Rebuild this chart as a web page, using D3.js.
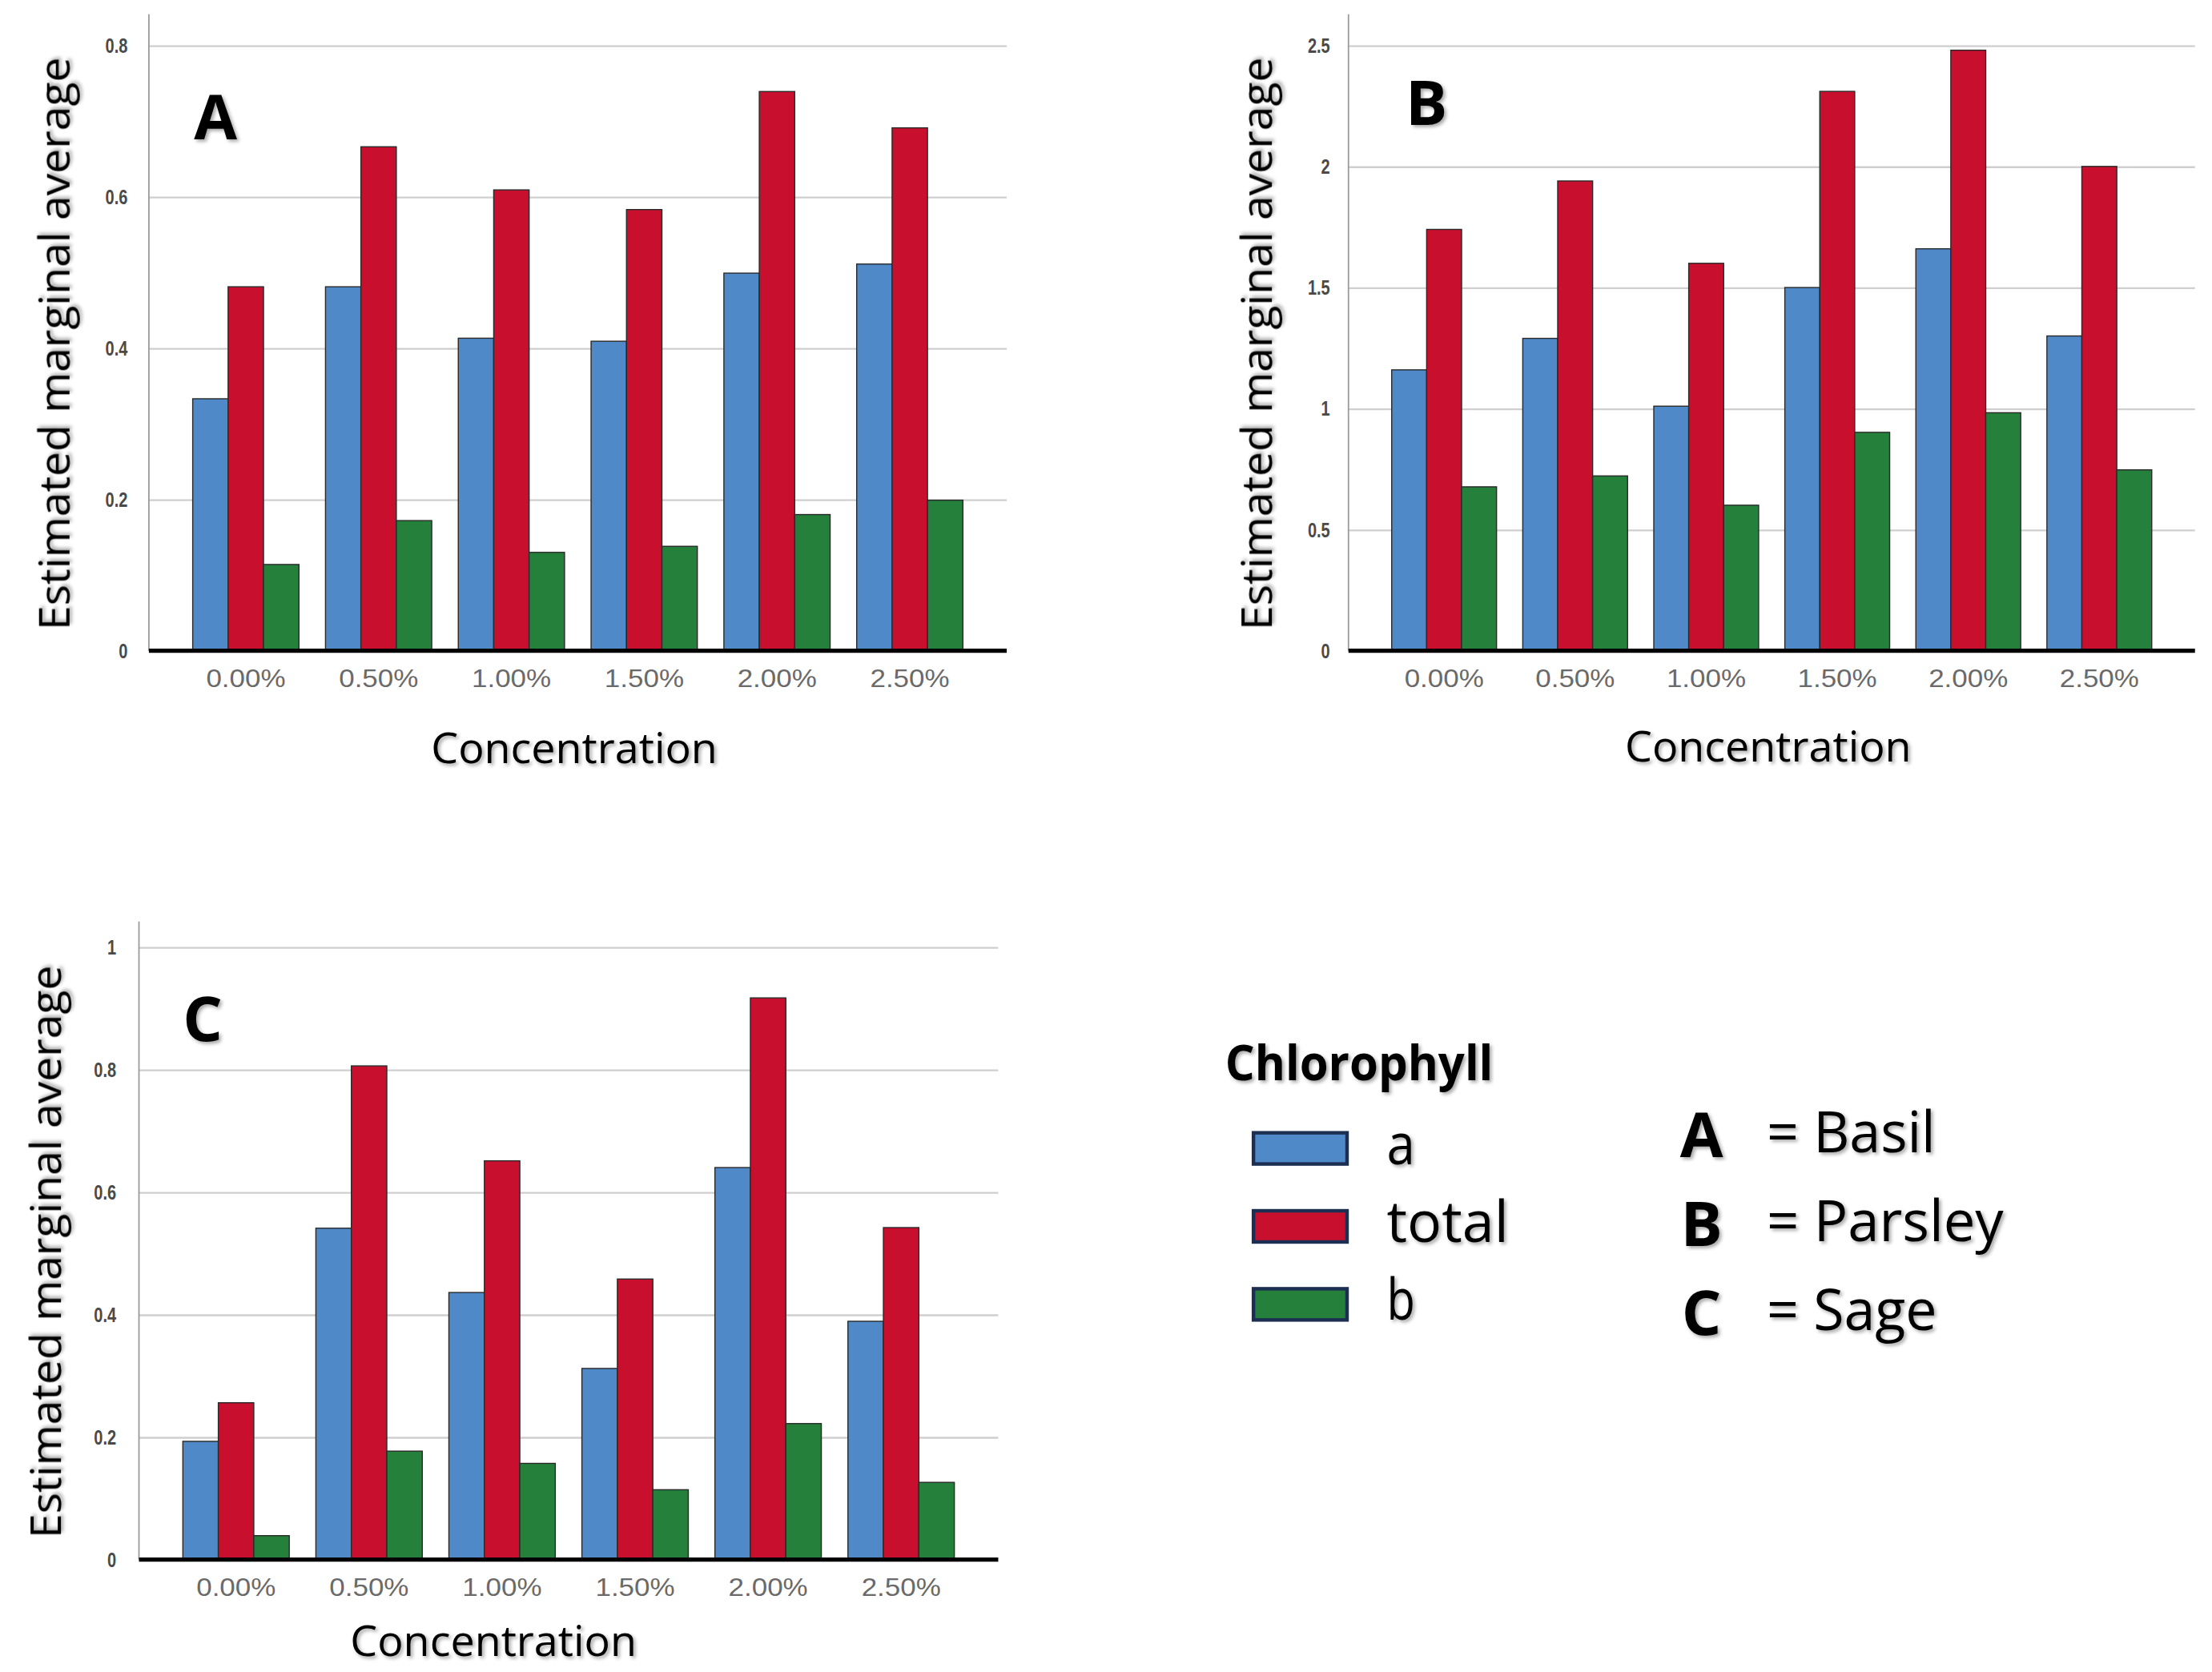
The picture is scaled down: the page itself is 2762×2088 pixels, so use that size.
<!DOCTYPE html>
<html>
<head>
<meta charset="utf-8">
<script src="https://cdn.jsdelivr.net/npm/d3@7"></script>
<style>
  html, body { margin: 0; padding: 0; background: #fff; }
  svg { display: block; }
</style>
</head>
<body>
<svg id="chart"></svg>
<script>
// categories and series
var concentrations = ["0.00%", "0.50%", "1.00%", "1.50%", "2.00%", "2.50%"];
var chlorophyll = ["a", "total", "b"];

// A = Basil
var basilA     = [0.333, 0.481, 0.413, 0.409, 0.499, 0.511];
var basilTotal = [0.481, 0.666, 0.609, 0.583, 0.739, 0.691];
var basilB     = [0.114, 0.172, 0.130, 0.138, 0.180, 0.199];

// B = Parsley
var parsleyA     = [1.16, 1.29, 1.01, 1.50, 1.66, 1.30];
var parsleyTotal = [1.74, 1.94, 1.60, 2.31, 2.48, 2.00];
var parsleyB     = [0.677, 0.722, 0.601, 0.902, 0.983, 0.747];

// C = Sage
var sageA     = [0.193, 0.541, 0.436, 0.312, 0.640, 0.389];
var sageTotal = [0.256, 0.806, 0.651, 0.458, 0.917, 0.542];
var sageB     = [0.039, 0.177, 0.157, 0.114, 0.222, 0.126];

var ticksA = [0, 0.2, 0.4, 0.6, 0.8];
var ticksB = [0, 0.5, 1, 1.5, 2, 2.5];
var ticksC = [0, 0.2, 0.4, 0.6, 0.8, 1];

var plantLetters = ["A", "B", "C"];
var plantNames = ["Basil", "Parsley", "Sage"];

var colors = { a: "#5089c8", total: "#c8102e", b: "#24803a" };

// drawing is done in a 1560 wide coordinate space, scaled to the window
var W = 1560, H = 2088 * 1560 / 2762;
var svg = d3.select("#chart")
    .attr("width", 2762).attr("height", 2088)
    .attr("viewBox", "0 0 " + W + " " + H);

var defs = svg.append("defs");
var f = defs.append("filter").attr("id", "shadow")
    .attr("x", "-10%").attr("y", "-10%").attr("width", "130%").attr("height", "140%");
f.append("feDropShadow").attr("dx", 1.5).attr("dy", 1.5).attr("stdDeviation", 1.2)
    .attr("flood-color", "#000").attr("flood-opacity", 0.35);

var titleFont = "'Open Sans', 'Noto Sans', sans-serif";
var tickFont = "'Liberation Sans', Arial, sans-serif";

var panels = [
    { letter: "A", a: basilA, total: basilTotal, b: basilB, ticks: ticksA, max: 0.8,
      x0: 105, x1: 710, top: 10, yMax: 32, base: 459,
      yTitleX: 38, xTitleX: 405, xTitleY: 528, letterX: 152, letterY: 98, tickX: 90 },
    { letter: "B", a: parsleyA, total: parsleyTotal, b: parsleyB, ticks: ticksB, max: 2.5,
      x0: 951, x1: 1548, top: 10, yMax: 32, base: 459,
      yTitleX: 886, xTitleX: 1247, xTitleY: 527, letterX: 1006, letterY: 88, tickX: 938 },
    { letter: "C", a: sageA, total: sageTotal, b: sageB, ticks: ticksC, max: 1,
      x0: 98, x1: 704, top: 650, yMax: 668, base: 1100,
      yTitleX: 32, xTitleX: 348, xTitleY: 1158, letterX: 143, letterY: 734, tickX: 82 }
];

panels.forEach(drawPanel);

function drawPanel(p) {
    var g = svg.append("g");
    var x = d3.scaleBand().domain(concentrations).range([p.x0, p.x1])
        .paddingInner(0.2).paddingOuter(0.33);
    var xs = d3.scaleBand().domain(chlorophyll).range([0, x.bandwidth()]);
    var y = d3.scaleLinear().domain([0, p.max]).range([p.base, p.yMax]);

    // gridlines
    g.append("g")
        .attr("transform", "translate(" + p.x0 + ",0)")
        .call(d3.axisLeft(y).tickValues(p.ticks.filter(function (t) { return t > 0; }))
            .tickSize(-(p.x1 - p.x0)).tickFormat(""))
        .call(function (s) {
            s.select(".domain").remove();
            s.selectAll("line").attr("stroke", "#cfcfcf").attr("stroke-width", 1.3);
        });

    // y axis line
    g.append("line").attr("x1", p.x0).attr("x2", p.x0)
        .attr("y1", p.top).attr("y2", p.base)
        .attr("stroke", "#9a9a9a").attr("stroke-width", 1);

    // y tick labels
    g.append("g")
        .attr("transform", "translate(" + p.tickX + ",0)")
        .call(d3.axisLeft(y).tickValues(p.ticks).tickSize(0).tickPadding(0)
            .tickFormat(function (d) { return String(d); }))
        .call(function (s) {
            s.select(".domain").remove();
            s.selectAll("text").attr("font-family", tickFont).attr("font-size", 14.5)
                .attr("font-weight", "bold").attr("fill", "#4a4a4a")
                .attr("transform", "scale(0.78,1)").attr("x", 0);
        });

    // bars
    var groups = g.selectAll("g.grp").data(concentrations).enter().append("g")
        .attr("class", "grp")
        .attr("transform", function (d) { return "translate(" + x(d) + ",0)"; });
    groups.selectAll("rect")
        .data(function (d, i) {
            return chlorophyll.map(function (k) { return { key: k, value: p[k][i] }; });
        })
        .enter().append("rect")
        .attr("x", function (d) { return xs(d.key); })
        .attr("y", function (d) { return y(d.value); })
        .attr("width", xs.bandwidth())
        .attr("height", function (d) { return p.base - y(d.value); })
        .attr("fill", function (d) { return colors[d.key]; })
        .attr("stroke", "#2a2a2a").attr("stroke-width", 0.8);

    // baseline
    g.append("line").attr("x1", p.x0).attr("x2", p.x1)
        .attr("y1", p.base).attr("y2", p.base)
        .attr("stroke", "#000").attr("stroke-width", 3);

    // x tick labels
    g.append("g")
        .attr("transform", "translate(0," + (p.base + 13) + ")")
        .call(d3.axisBottom(x).tickSize(0).tickPadding(0))
        .call(function (s) {
            s.select(".domain").remove();
            s.selectAll("text").attr("font-family", tickFont).attr("font-size", 17.5)
                .attr("fill", "#6a6a6a").attr("textLength", 56)
                .attr("lengthAdjust", "spacingAndGlyphs");
        });

    // axis titles
    g.append("text")
        .attr("x", p.xTitleX).attr("y", p.xTitleY + 10)
        .attr("text-anchor", "middle")
        .attr("font-family", titleFont).attr("font-size", 30)
        .attr("textLength", 202).attr("lengthAdjust", "spacingAndGlyphs")
        .attr("filter", "url(#shadow)")
        .text("Concentration");

    var yMid = (p.top + p.base) / 2 + 8;
    g.append("text")
        .attr("transform", "translate(" + (p.yTitleX + 11) + "," + yMid + ") rotate(-90)")
        .attr("text-anchor", "middle")
        .attr("font-family", titleFont).attr("font-size", 30)
        .attr("textLength", 404).attr("lengthAdjust", "spacingAndGlyphs")
        .attr("filter", "url(#shadow)")
        .text("Estimated marginal average");

    // panel letter
    g.append("text")
        .attr("x", p.letterX).attr("y", p.letterY)
        .attr("text-anchor", "middle")
        .attr("font-family", titleFont).attr("font-weight", "bold").attr("font-size", 44)
        .attr("filter", "url(#shadow)")
        .text(p.letter);
}

// legend
var lg = svg.append("g");
lg.append("text")
    .attr("x", 864).attr("y", 762)
    .attr("font-family", titleFont).attr("font-weight", "bold").attr("font-size", 34)
    .attr("textLength", 189).attr("lengthAdjust", "spacingAndGlyphs")
    .attr("filter", "url(#shadow)")
    .text("Chlorophyll");

var legY = d3.scaleBand().domain(chlorophyll).range([799, 931]).paddingInner(0.6).paddingOuter(0);
var items = lg.selectAll("g.item").data(chlorophyll).enter().append("g").attr("class", "item");
items.append("rect")
    .attr("x", 884).attr("width", 66)
    .attr("y", function (d) { return legY(d); })
    .attr("height", legY.bandwidth())
    .attr("fill", function (d) { return colors[d]; })
    .attr("stroke", "#1c2f52").attr("stroke-width", 2.5);
items.append("text")
    .attr("x", 978).attr("y", function (d) { return legY(d) + 22; })
    .attr("font-family", titleFont).attr("font-size", 40)
    .attr("textLength", function (d) { return d === "total" ? 86 : 20; })
    .attr("lengthAdjust", "spacingAndGlyphs")
    .attr("filter", "url(#shadow)")
    .text(function (d) { return d; });

var plantY = d3.scaleBand().domain(plantLetters).range([784, 972]).paddingInner(0).paddingOuter(0);
var plants = lg.selectAll("g.plant").data(plantLetters).enter().append("g").attr("class", "plant");
plants.append("text")
    .attr("x", 1200).attr("y", function (d) { return plantY(d) + 32; })
    .attr("text-anchor", "middle")
    .attr("font-family", titleFont).attr("font-weight", "bold").attr("font-size", 44)
    .attr("filter", "url(#shadow)")
    .text(function (d) { return d; });
plants.append("text")
    .attr("x", 1246).attr("y", function (d) { return plantY(d) + 29; })
    .attr("font-family", titleFont).attr("font-size", 40)
    .attr("textLength", function (d, i) { return [119, 167, 120][i]; })
    .attr("lengthAdjust", "spacingAndGlyphs")
    .attr("filter", "url(#shadow)")
    .text(function (d, i) { return "= " + plantNames[i]; });
</script>
</body>
</html>
